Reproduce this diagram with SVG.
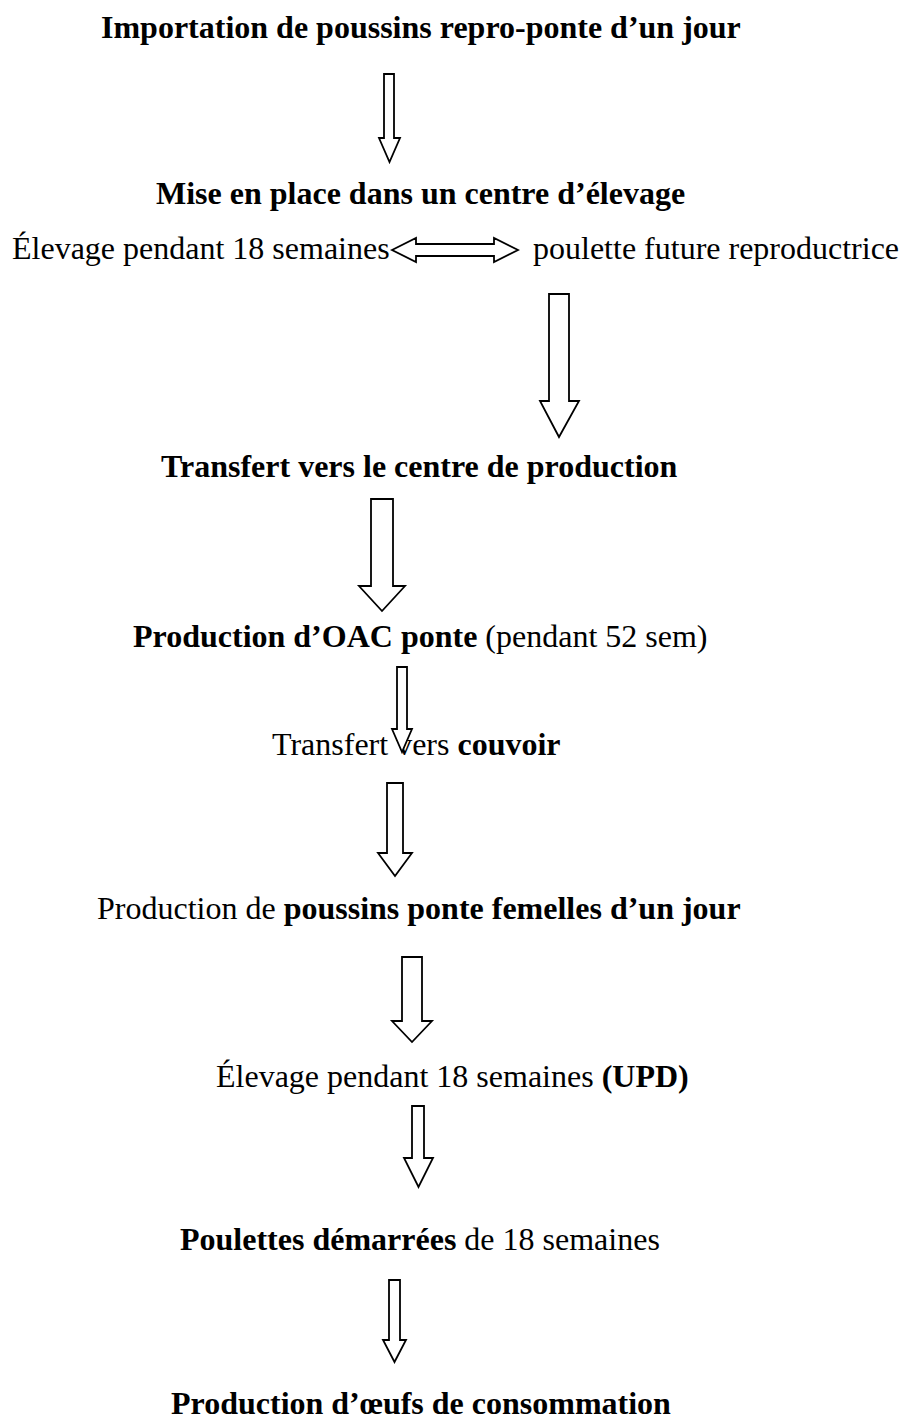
<svg xmlns="http://www.w3.org/2000/svg" width="902" height="1420" viewBox="0 0 902 1420">
<style>
text{font-family:"Liberation Serif","Times New Roman",serif;font-size:32px;fill:#000}
.b{font-weight:bold}
.ar{fill:#fff;stroke:#000;stroke-width:1.8;stroke-linejoin:miter}
</style>
<rect width="902" height="1420" fill="#fff"/>
<g id="n1"><text class="b" x="101" y="38">Importation de poussins repro-ponte d’un jour</text></g>
<g id="n2"><text class="b" x="156" y="204">Mise en place dans un centre d’élevage</text></g>
<g id="n3a"><text x="12" y="259">Élevage pendant 18 semaines</text></g>
<g id="n3b"><text x="533" y="259">poulette future reproductrice</text></g>
<g id="n4"><text class="b" x="161" y="477">Transfert vers le centre de production</text></g>
<g id="n5"><text x="133" y="647"><tspan class="b">Production d’OAC ponte</tspan> (pendant 52 sem)</text></g>
<g id="n6"><text x="272" y="755">Transfert vers <tspan class="b">couvoir</tspan></text></g>
<g id="n7"><text x="97" y="919">Production de <tspan class="b">poussins ponte femelles d’un jour</tspan></text></g>
<g id="n8"><text x="216" y="1087">Élevage pendant 18 semaines <tspan class="b">(UPD)</tspan></text></g>
<g id="n9"><text x="180" y="1250"><tspan class="b">Poulettes démarrées</tspan> de 18 semaines</text></g>
<g id="n10"><text class="b" x="171" y="1414">Production d’œufs de consommation</text></g>
<g id="connectors">
<polygon class="ar" points="384,74 394,74 394,138 400,138 389.5,162 379,138 384,138"/>
<polygon class="ar" points="392,250 416,238 416,244 494,244 494,238 518,250 494,262 494,256 416,256 416,262"/>
<polygon class="ar" points="549,294 569,294 569,401 579,401 559,437 540,401 549,401"/>
<polygon class="ar" points="371,499 393,499 393,586 405,586 382,611 359,586 371,586"/>
<polygon class="ar" points="397,667 407,667 407,729 412,729 402,752 392,729 397,729"/>
<polygon class="ar" points="387,783 403,783 403,853 412,853 395,876 378,853 387,853"/>
<polygon class="ar" points="402,957 422,957 422,1021 432,1021 412,1042 392,1021 402,1021"/>
<polygon class="ar" points="412,1106 424,1106 424,1158 433,1158 418.5,1187 404,1158 412,1158"/>
<polygon class="ar" points="389,1280 400,1280 400,1340 406,1340 394.5,1362 383,1340 389,1340"/>
</g>
</svg>
